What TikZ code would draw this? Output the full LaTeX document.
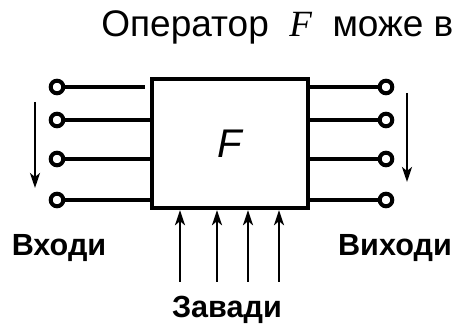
\documentclass[tikz,border=0pt]{standalone}
\usepackage{fontspec}
\setmainfont{Liberation Sans}
\newfontfamily\opserif{Liberation Serif}
\usetikzlibrary{arrows.meta,positioning,calc}
\tikzset{
  opbox/.style={draw, line width=2.2pt, minimum width=78pt, minimum height=64.5pt,
                inner sep=0pt, font=\fontsize{20}{22}\selectfont\itshape},
  port/.style={draw, circle, line width=2pt, minimum size=6.3pt, inner sep=0pt},
  wire/.style={line width=1.7pt},
  flow/.style={line width=1.2pt, -{Stealth[length=7.5pt, width=5pt, inset=2pt]}},
  lbl/.style={font=\fontsize{15.3}{17}\selectfont\bfseries, anchor=base},
}

\begin{document}
\begin{tikzpicture}[x=0.5pt, y=-0.5pt]
\useasboundingbox (0,0) rectangle (456,324);
\clip (0,0) rectangle (456,324);

% Title line (cut at the right edge)
\node[font=\fontsize{18.5}{21}\selectfont, anchor=base west, inner sep=0pt] (title) at (101,37)
  {Оператор \ {\opserif\itshape F}\ \ може в};

% The operator
\node[opbox] (op) at (230,143.5) {F};

% Inputs
\node[port] (in1) at (57,87) {};
\node[port] (in2) at (57,120) {};
\node[port] (in3) at (57,159) {};
\node[port] (in4) at (57,200) {};
\draw[wire, shorten >=2.5pt] (in1.east) -- (in1 -| op.west);
\foreach \i in {2,3,4}
  \draw[wire] (in\i.east) -- (in\i -| op.west);

% Outputs
\node[port] (out1) at (386,87) {};
\node[port] (out2) at (386,120) {};
\node[port] (out3) at (386,159) {};
\node[port] (out4) at (386,200) {};
\foreach \i in {1,...,4}
  \draw[wire] (out\i -| op.east) -- (out\i.west);

% Direction of numbering
\coordinate (inA) at (35,102);
\coordinate (inB) at (35,188);
\draw[flow] (inA) -- (inB);
\coordinate (outA) at (407,93);
\coordinate (outB) at (407,182);
\draw[flow] (outA) -- (outB);

% Disturbances from below
\foreach \x [count=\k] in {180,217,248,279} {
  \coordinate (nz\k) at (\x,282);
  \draw[flow] (nz\k) -- (nz\k |- op.south);
}

% Labels
\node[lbl] (inlbl) at (59,256) {Входи};
\node[lbl] (outlbl) at (395,256) {Виходи};
\node[lbl] (nzlbl) at (227,318) {Завади};
\end{tikzpicture}
\end{document}
